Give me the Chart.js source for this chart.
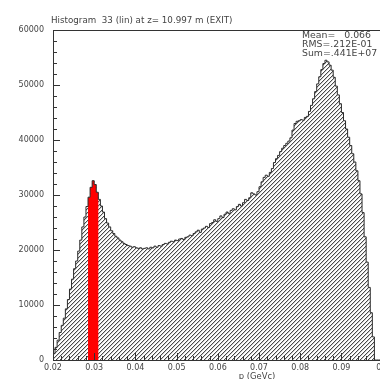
<!DOCTYPE html>
<html>
<head>
<meta charset="utf-8">
<script src="https://cdn.jsdelivr.net/npm/chart.js@4.4.1/dist/chart.umd.min.js"></script>
<style>
  html, body { margin: 0; padding: 0; background: #fff; overflow: hidden; width: 380px; height: 379px; }
  canvas { display: block; }
</style>
</head>
<body>
<canvas id="c" width="392" height="392"></canvas>
<script>
// Momentum spectrum at the exit plane, 0.0005 GeV/c bins from 0.02 to 0.1
const binStart = 0.02;
const binWidth = 0.0005;
const counts = [
  400, 1200, 2300, 3600, 5000, 6300, 7600, 9300, 11000, 12900,
  14700, 16600, 18000, 19800, 21800, 24200, 26000, 27900, 29600, 31400,
  32600, 31900, 30500, 29200, 28000, 26900, 25700, 24900, 24200, 23500,
  23000, 22500, 22200, 21800, 21500, 21200, 21000, 20800, 20700, 20500,
  20600, 20400, 20300, 20400, 20200, 20300, 20400, 20200, 20500, 20400,
  20700, 20500, 20800, 20700, 21000, 21200, 21100, 21400, 21600, 21500,
  21800, 21700, 22000, 22100, 21900, 22300, 22400, 22700, 22600, 23000,
  23300, 23600, 23200, 23800, 24000, 24300, 24100, 24800, 25000, 25500,
  25200, 25700, 26200, 25900, 26500, 26900, 26600, 27200, 27500, 27300,
  27900, 28300, 28000, 28600, 29200, 29000, 29500, 30400, 30200, 30000,
  30600, 31500, 32400, 33200, 33600, 33400, 34100, 34800, 35900, 36600,
  37200, 37900, 38500, 39000, 39400, 39800, 40400, 41800, 43000, 43400,
  43500, 43700, 43600, 44100, 44300, 45200, 46300, 47500, 48800, 50200,
  51500, 52800, 53900, 54500, 54200, 53600, 52700, 51400, 49800, 48200,
  46600, 45000, 43500, 42000, 40500, 39000, 37500, 36000, 34400, 32600,
  30200, 26800, 22400, 17800, 13200, 8600, 4200, 0, 0, 0
];
// Selected momentum window (bin indices, first and last) shown in red
const selFirstBin = 17;
const selLastBin = 22;

const xTickLabels = ['0.02', '0.03', '0.04', '0.05', '0.06', '0.07', '0.08', '0.09', '0.1'];
const yTickLabels = ['0', '10000', '20000', '30000', '40000', '50000', '60000'];
const histTitle = 'Histogram  33 (lin) at z= 10.997 m (EXIT)';
const statsLines = ['Mean=   0.066', 'RMS=.212E-01', 'Sum=.441E+07'];
const xAxisTitle = 'p (GeVc)';

const FONT = 'DejaVu Sans';
const INK = '#444';

// Staircase outline points for bins [from, to]
function stepPoints(from, to) {
  const pts = [{ x: binStart + from * binWidth, y: 0 }];
  for (let i = from; i <= to; i++) pts.push({ x: binStart + i * binWidth, y: counts[i] });
  pts.push({ x: binStart + (to + 1) * binWidth, y: 0 });
  return pts;
}

// Diagonal "///" hatching
function hatchPattern(ctx) {
  const t = document.createElement('canvas');
  t.width = 4; t.height = 4;
  const g = t.getContext('2d');
  g.fillStyle = '#fff';
  g.fillRect(0, 0, 4, 4);
  for (let x = 0; x < 4; x++) {
    const y = (3 - x + 4) % 4;
    g.fillStyle = '#4a4a4a';
    g.fillRect(x, y, 1, 1);
    g.fillStyle = '#cfcfcf';
    g.fillRect(x, (y + 1) % 4, 1, 1);
  }
  return ctx.createPattern(t, 'repeat');
}

// Wide, low text: draw with a horizontal stretch
function stretchedText(ctx, text, x, y, sx, align) {
  ctx.save();
  ctx.translate(x, y);
  ctx.scale(sx, 1);
  ctx.textAlign = align;
  ctx.fillText(text, 0, 0);
  ctx.restore();
}

const decorations = {
  id: 'decorations',
  afterDraw(chart) {
    const { ctx, chartArea: a, scales: { x, y } } = chart;
    ctx.save();
    ctx.strokeStyle = '#333';
    ctx.lineWidth = 1;
    // top frame line
    ctx.beginPath();
    ctx.moveTo(a.left, Math.round(a.top) + 0.5);
    ctx.lineTo(chart.width, Math.round(a.top) + 0.5);
    ctx.stroke();
    // inward ticks on the y axis
    ctx.beginPath();
    for (let v = 0; v <= 60000; v += 2000) {
      const py = Math.round(y.getPixelForValue(v)) + 0.5;
      const len = v % 10000 === 0 ? 7 : 4;
      ctx.moveTo(a.left, py);
      ctx.lineTo(a.left + len, py);
    }
    // inward ticks on the x axis
    for (let k = 0; k <= 40; k++) {
      const p = 0.02 + k * 0.002;
      const px = Math.round(x.getPixelForValue(p)) + 0.5;
      const len = k % 5 === 0 ? 7 : 4;
      ctx.moveTo(px, a.bottom);
      ctx.lineTo(px, a.bottom - len);
    }
    ctx.stroke();

    ctx.fillStyle = INK;
    ctx.font = '8px "' + FONT + '"';
    ctx.textBaseline = 'middle';
    stretchedText(ctx, histTitle, 51, 21, 1.09, 'left');
    ctx.font = '8.5px "' + FONT + '"';
    statsLines.forEach((s, i) => stretchedText(ctx, s, 302, 36 + i * 9, 1.1, 'left'));
    ctx.font = '8px "' + FONT + '"';
    stretchedText(ctx, xAxisTitle, 257, 377, 1.05, 'center');
    ctx.restore();
  }
};

const canvas = document.getElementById('c');
const ctx = canvas.getContext('2d');
const hatch = hatchPattern(ctx);

new Chart(ctx, {
  type: 'line',
  data: {
    datasets: [
      {
        data: stepPoints(0, counts.length - 1),
        stepped: 'after',
        borderColor: '#2b2b2b',
        borderWidth: 1,
        fill: false,
        pointRadius: 0,
        order: 0
      },
      {
        data: stepPoints(selFirstBin, selLastBin),
        stepped: 'after',
        borderColor: 'rgba(0,0,0,0)',
        borderWidth: 0,
        backgroundColor: '#ff0000',
        fill: 'origin',
        pointRadius: 0,
        order: 1
      },
      {
        data: stepPoints(0, counts.length - 1),
        stepped: 'after',
        borderColor: 'rgba(0,0,0,0)',
        borderWidth: 0,
        backgroundColor: hatch,
        fill: 'origin',
        pointRadius: 0,
        order: 2
      }
    ]
  },
  options: {
    responsive: false,
    animation: false,
    devicePixelRatio: 1,
    layout: { padding: { top: 30, right: 8, left: 0, bottom: 0 } },
    plugins: { legend: { display: false }, tooltip: { enabled: false }, title: { display: false } },
    scales: {
      x: {
        type: 'linear',
        min: 0.02,
        max: 0.1,
        afterFit(s) { s.height = 32; },
        grid: { display: false, drawTicks: false },
        border: { display: true, color: '#333', width: 1 },
        ticks: {
          stepSize: 0.01,
          padding: 3,
          autoSkip: false,
          maxRotation: 0,
          color: INK,
          font: { family: FONT, size: 8 },
          callback: (v, i) => xTickLabels[i] ?? ''
        }
      },
      y: {
        min: 0,
        max: 60000,
        afterFit(s) { s.width = 53; },
        grid: { display: false, drawTicks: false },
        border: { display: true, color: '#333', width: 1 },
        ticks: {
          stepSize: 10000,
          padding: 9,
          color: INK,
          font: { family: FONT, size: 8 },
          callback: (v, i) => yTickLabels[i] ?? ''
        }
      }
    }
  },
  plugins: [decorations]
});
</script>
</body>
</html>
